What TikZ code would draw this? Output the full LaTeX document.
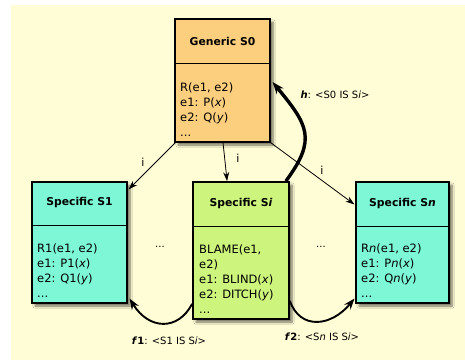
\documentclass[tikz,border=0pt]{standalone}
\usepackage{fontspec}
\setmainfont{DejaVu Sans}
\usetikzlibrary{calc,arrows.meta,shadows.blur}
\definecolor{bg}{HTML}{FFFDD6}
\definecolor{orangebox}{HTML}{FCCF7E}
\definecolor{aquabox}{HTML}{7DF7D6}
\definecolor{greenbox}{HTML}{CDF47C}
\tikzset{
  box/.style={draw=black, line width=1.1pt, minimum width=95pt, inner sep=0pt,
    blur shadow={shadow xshift=3pt, shadow yshift=-3pt, shadow blur steps=6, shadow opacity=55}},
  title/.style={font=\fontsize{10.8}{14}\selectfont\bfseries, inner sep=0pt},
  body/.style={font=\fontsize{11.5}{15}\selectfont, align=left, anchor=north west, inner sep=0pt},
  elabel/.style={font=\fontsize{10}{14}\selectfont, inner sep=0pt},
  iarrow/.style={draw=black, line width=0.8pt, -{Stealth[length=9pt,width=6pt]}},
  harrow/.style={draw=black, line width=3.4pt, -{Stealth[length=12pt,width=9pt]}},
  farrow/.style={draw=black, line width=1.9pt, -{Stealth[length=11pt,width=8pt]}},
}
\begin{document}
\begin{tikzpicture}[x=1pt,y=-1pt]
\useasboundingbox (0,0) rectangle (465,360);
\fill[bg] (11,5) rectangle (465,360);
% boxes
\node[box, fill=orangebox, minimum width=95pt, minimum height=123pt] (s0) at (222.5,80.5) {};
\node[box, fill=aquabox, minimum width=95pt, minimum height=121pt] (s1) at (79.5,242.5) {};
\node[box, fill=greenbox, line width=1.8pt, minimum width=96pt, minimum height=137pt] (si) at (241,250.5) {};
\node[box, fill=aquabox, minimum width=93pt, minimum height=121pt] (sn) at (402.5,242.5) {};
% dividers
\draw[line width=1pt] (s0.west |- 0,63) -- (s0.east |- 0,63);
\draw[line width=1pt] (s1.west |- 0,225) -- (s1.east |- 0,225);
\draw[line width=1pt] (si.west |- 0,226) -- (si.east |- 0,226);
\draw[line width=1pt] (sn.west |- 0,226) -- (sn.east |- 0,226);
% titles
\node[title] (t0) at (222.5,41) {Generic S0};
\node[title] (t1) at (79.5,203) {Specific S1};
\node[title] (ti) at (241,204) {Specific S\textit{i}};
\node[title] (tn) at (402.5,204) {Specific S\textit{n}};
% bodies
\node[body] (b0) at (180,83) {R(e1, e2)\\e1: P(\textit{x})\\e2: Q(\textit{y})\\...};
\node[body] (b1) at (37,244) {R1(e1, e2)\\e1: P1(\textit{x})\\e2: Q1(\textit{y})\\...};
\node[body] (bi) at (199,245) {BLAME(e1,\\e2)\\e1: BLIND(\textit{x})\\e2: DITCH(\textit{y})\\...};
\node[body] (bn) at (361,244) {R\textit{n}(e1, e2)\\e1: P\textit{n}(\textit{x})\\e2: Q\textit{n}(\textit{y})\\...};
% ellipses between boxes
\node[elabel] (d1) at (160,247) {...};
\node[elabel] (d2) at (321,247) {...};
% i arrows
\draw[iarrow] ($(s0.south west)+(1,0)$) -- ($(s1.north east)+(1,8)$);
\draw[iarrow] ($(s0.south)+(0.5,0)$) -- ($(si.north west)+(35,0)$);
\draw[iarrow] (s0.south east) -- ($(sn.north west)+(-1,23)$);
\node[elabel, font=\fontsize{11}{14}\selectfont] (i1) at (143,162) {i};
\node[elabel, font=\fontsize{11}{14}\selectfont] (i2) at (238,158) {i};
\node[elabel, font=\fontsize{11}{14}\selectfont] (i3) at (322,170) {i};
% h arrow
\draw[harrow] ($(si.north east)+(-4,0)$) .. controls (317,139) and (308,125) .. ($(s0.east)+(2,1.5)$);
\node[elabel] (hl) at (335,95) {\textbf{\textit{h}}: <S0 IS S\textit{i}>};
% f arrows
\draw[farrow] ($(si.south west)+(0,-16)$) .. controls (178,331) and (149,330) .. ($(s1.south east)+(2,-5)$);
\draw[farrow] ($(si.south east)+(0,-19)$) .. controls (300,330) and (331,327) .. ($(sn.south west)+(-1,-5)$);
\node[elabel] (f1l) at (169,341) {\textbf{\textit{f}1}: <S1 IS S\textit{i}>};
\node[elabel] (f2l) at (322,337) {\textbf{\textit{f}2}: <S\textit{n} IS S\textit{i}>};
\end{tikzpicture}
\end{document}
